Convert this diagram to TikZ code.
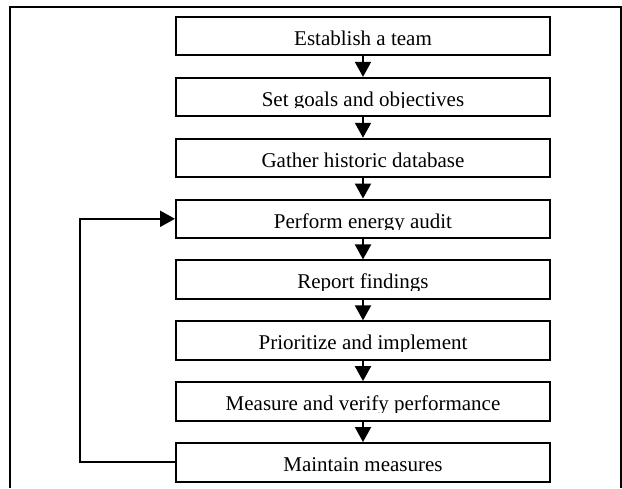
\documentclass[tikz,border=0pt]{standalone}
\usepackage{fontspec}
\setmainfont{Liberation Serif}
\usepackage{tikz}
\usetikzlibrary{arrows.meta,positioning,calc}

\begin{document}
\begin{tikzpicture}[x=0.5pt, y=-0.5pt,
    stepbox/.style={draw=black, line width=1pt, minimum width=187pt, minimum height=19.25pt, inner sep=0pt,
      path picture={\clip ([yshift=4.2pt]path picture bounding box.south west) rectangle (path picture bounding box.north east);
        \node[anchor=base, inner sep=0pt, font=\fontsize{10.5}{12}\selectfont] at ([yshift=5pt]path picture bounding box.south) {#1};}},
    flowarrow/.style={-{Triangle[length=7.5pt, width=8pt]}, line width=1pt}]
        \useasboundingbox (0,0) rectangle (622,488);
        % frame
        \draw[line width=1.2pt] (10,488) -- (10,7) -- (621,7) -- (621,488);
        \node[stepbox={Establish a team}] (team) at (363,36.2) {};
        \node[stepbox={Set goals and objectives}] (goals) at (363,97.1) {};
        \node[stepbox={Gather historic database}] (data) at (363,158) {};
        \node[stepbox={Perform energy audit}] (audit) at (363,218.8) {};
        \node[stepbox={Report findings}] (report) at (363,279.7) {};
        \node[stepbox={Prioritize and implement}] (implement) at (363,340.6) {};
        \node[stepbox={Measure and verify performance}] (verify) at (363,401.4) {};
        \node[stepbox={Maintain measures}] (keep) at (363,462.3) {};
        \draw[flowarrow] (team) -- (goals);
        \draw[flowarrow] (goals) -- (data);
        \draw[flowarrow] (data) -- (audit);
        \draw[flowarrow] (audit) -- (report);
        \draw[flowarrow] (report) -- (implement);
        \draw[flowarrow] (implement) -- (verify);
        \draw[flowarrow] (verify) -- (keep);
        % loop back
        \draw[flowarrow] (keep.west) -- ++(-95,0) |- (audit.west);
      \end{tikzpicture}
\end{document}
